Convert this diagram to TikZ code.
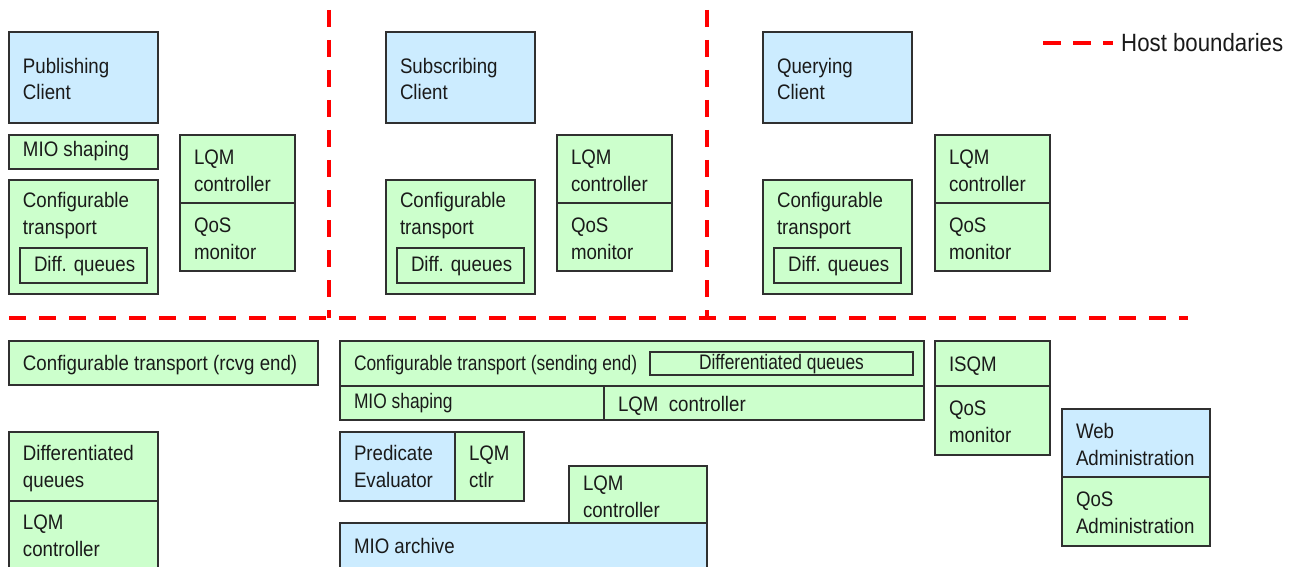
\documentclass[tikz,border=0pt]{standalone}
\usepackage{fontspec}
\setmainfont{Liberation Sans}[FakeStretch=0.89]
\usetikzlibrary{calc}

\definecolor{clientblue}{HTML}{CCECFF}
\definecolor{partgreen}{HTML}{CCFFCC}
\definecolor{hostred}{HTML}{FF0000}
\definecolor{edgegray}{HTML}{303030}
\definecolor{inkgray}{HTML}{1A1A1A}

\newcommand\boxfont{\fontsize{21}{26.5}\selectfont}
\newcommand\legendfont{\fontsize{25}{30}\selectfont}

% #1 style, #2 name, (#3,#4) top-left corner, (#5,#6) bottom-right corner
\newcommand\placebox[6]{%
  \node[#1, minimum width={(#5)-(#3)}, minimum height={(#6)-(#4)}] (#2) at (#3,#4) {};}

% labels: the given point is the baseline of the LAST line
\tikzset{
  box/.style={draw=edgegray, line width=1.4pt, inner sep=0pt, outer sep=0pt,
              anchor=north west, rectangle},
  bluebox/.style={box, fill=clientblue},
  greenbox/.style={box, fill=partgreen},
  lbl/.style={anchor=base west, inner sep=0pt, outer sep=0pt, align=left,
              font=\boxfont, text=inkgray},
  host/.style={draw=hostred, line width=4pt, dash pattern=on 17pt off 13pt},
}

\begin{document}
\begin{tikzpicture}[x=1pt, y=-1pt]
\useasboundingbox (0,0) rectangle (1293,567);
\clip (0,0) rectangle (1293,567);

% ---------- publishing host ----------
\placebox{bluebox}{pub}{9}{32}{158}{123}
\placebox{greenbox}{pubmio}{9}{135}{158}{169}
\placebox{greenbox}{pubct}{9}{180}{158}{294}
\placebox{greenbox}{pubdq}{20}{248}{147}{283}
\placebox{greenbox}{publqm}{180}{135}{295}{203}
\placebox{greenbox}{pubqos}{180}{203}{295}{271}
\node[lbl] (pubT) at (23,100) {Publishing\\Client};
\node[lbl] (pubmioT) at (23,157) {MIO shaping};
\node[lbl] (pubctT) at (23,234) {Configurable\\transport};
\node[lbl] (pubdqT) at (34,271) {Diff. queues};
\node[lbl] (publqmT) at (194,191) {LQM\\controller};
\node[lbl] (pubqosT) at (194,259) {QoS\\monitor};

% ---------- subscribing host ----------
\placebox{bluebox}{sub}{386}{32}{535}{123}
\placebox{greenbox}{subct}{386}{180}{535}{294}
\placebox{greenbox}{subdq}{397}{248}{524}{283}
\placebox{greenbox}{sublqm}{557}{135}{672}{203}
\placebox{greenbox}{subqos}{557}{203}{672}{271}
\node[lbl] (subT) at (400,100) {Subscribing\\Client};
\node[lbl] (subctT) at (400,234) {Configurable\\transport};
\node[lbl] (subdqT) at (411,271) {Diff. queues};
\node[lbl] (sublqmT) at (571,191) {LQM\\controller};
\node[lbl] (subqosT) at (571,259) {QoS\\monitor};

% ---------- querying host ----------
\placebox{bluebox}{qry}{763}{32}{912}{123}
\placebox{greenbox}{qryct}{763}{180}{912}{294}
\placebox{greenbox}{qrydq}{774}{248}{901}{283}
\placebox{greenbox}{qrylqm}{935}{135}{1050}{203}
\placebox{greenbox}{qryqos}{935}{203}{1050}{271}
\node[lbl] (qryT) at (777,100) {Querying\\Client};
\node[lbl] (qryctT) at (777,234) {Configurable\\transport};
\node[lbl] (qrydqT) at (788,271) {Diff. queues};
\node[lbl] (qrylqmT) at (949,191) {LQM\\controller};
\node[lbl] (qryqosT) at (949,259) {QoS\\monitor};

% ---------- host boundaries ----------
\coordinate (hL) at (9,318);
\coordinate (hR) at (1188,318);
\coordinate (v1T) at (329,10);
\coordinate (v1B) at (329,318);
\coordinate (v2T) at (707,10);
\coordinate (v2B) at (707,318);
\draw[host] (hL) -- (hR);
\draw[host] (v1T) -- (v1B);
\draw[host] (v2T) -- (v2B);

% legend
\coordinate (legA) at (1043,43);
\coordinate (legB) at (1113,43);
\draw[host, dash pattern=on 18pt off 12pt] (legA) -- (legB);
\node[anchor=base west, inner sep=0pt, font=\legendfont, text=inkgray] (legT) at (1121,52) {Host boundaries};

% ---------- server host ----------
\placebox{greenbox}{rcv}{9}{341}{318}{385}
\node[lbl] (rcvT) at (23,370) {Configurable transport (rcvg end)};

\placebox{greenbox}{dq}{9}{432}{158}{501}
\placebox{greenbox}{dqlqm}{9}{501}{158}{590}
\node[lbl] (dqT) at (23,487) {Differentiated\\queues};
\node[lbl] (dqlqmT) at (23,556) {LQM\\controller};

\placebox{greenbox}{snd}{340}{341}{924}{386}
\placebox{greenbox}{snddq}{650}{352}{913}{375}
\placebox{greenbox}{sndmio}{340}{386}{604}{420}
\placebox{greenbox}{sndlqm}{604}{386}{924}{420}
\node[lbl] (sndT) at (354,370) {\scalebox{0.93}[1]{Configurable transport (sending end)}};
\node[anchor=base, inner sep=0pt, font=\boxfont, text=inkgray] (snddqT) at (781.5,369) {\scalebox{0.93}[1]{Differentiated queues}};
\node[lbl] (sndmioT) at (354,408) {\scalebox{0.93}[1]{MIO shaping}};
\node[lbl] (sndlqmT) at (618,411) {LQM\ \ controller};

\placebox{bluebox}{pred}{340}{432}{455}{501}
\placebox{greenbox}{predlqm}{455}{432}{524}{501}
\node[lbl] (predT) at (354,487) {Predicate\\Evaluator};
\node[lbl] (predlqmT) at (469,487) {LQM\\ctlr};

\placebox{bluebox}{arch}{340}{523}{707}{590}
\placebox{greenbox}{archlqm}{569}{466}{707}{523}
\node[lbl] (archT) at (354,553) {MIO archive};
\node[lbl] (archlqmT) at (583,517) {LQM\\controller};

\placebox{greenbox}{isqm}{935}{341}{1050}{386}
\placebox{greenbox}{isqos}{935}{386}{1050}{455}
\node[lbl] (isqmT) at (949,371) {ISQM};
\node[lbl] (isqosT) at (949,442) {QoS\\monitor};

\placebox{bluebox}{web}{1062}{409}{1210}{477}
\placebox{greenbox}{webqos}{1062}{477}{1210}{546}
\node[lbl] (webT) at (1076,465) {Web\\Administration};
\node[lbl] (webqosT) at (1076,533) {QoS\\Administration};
\end{tikzpicture}
\end{document}
